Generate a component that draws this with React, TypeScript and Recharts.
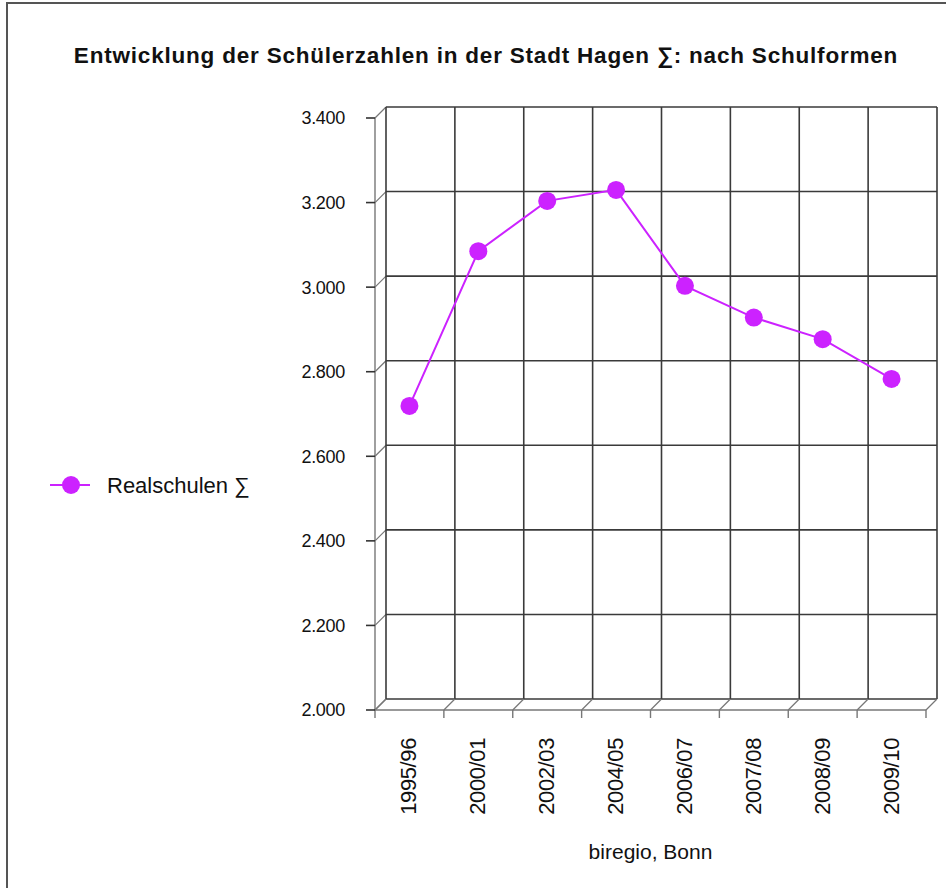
import { LineChart, Line, XAxis, YAxis, CartesianGrid, Legend } from 'recharts';

const categories = ['1995/96', '2000/01', '2002/03', '2004/05', '2006/07', '2007/08', '2008/09', '2009/10'];
const realschulen = [2719, 3085, 3204, 3230, 3003, 2928, 2877, 2783];
const yTicks = [2000, 2200, 2400, 2600, 2800, 3000, 3200, 3400];

const seriesName = 'Realschulen ∑';
const title = 'Entwicklung der Schülerzahlen in der Stadt Hagen ∑: nach Schulformen';
const source = 'biregio, Bonn';

const data = categories.map((c, i) => ({ year: c, value: realschulen[i] }));

const PURPLE = '#cc22ff';
const GRID = '#3a3a3a';
const AXIS = '#777';
const FONT = '"Liberation Sans", Arial, Helvetica, sans-serif';
// depth of the pseudo-3D back wall
const DX = 11;
const DY = 11;

const fmt = (v: number) => String(v).replace(/\B(?=(\d{3})+(?!\d))/g, '.');

const XTick = ({ x, y, payload }: any) => {
  const tx = x + 7;
  const ty = y + 28;
  return (
    <text
      x={tx}
      y={ty}
      transform={`rotate(-90 ${tx} ${ty})`}
      textAnchor="end"
      fontSize={22}
      fontFamily={FONT}
      fill="#111"
      letterSpacing={-0.4}
    >
      {payload.value}
    </text>
  );
};

const HLine = (p: any) => (
  <g>
    <line x1={p.x1 + DX} y1={p.y1 - DY} x2={p.x2 + DX} y2={p.y2 - DY} stroke={GRID} strokeWidth={1.6} />
    <line x1={p.x1} y1={p.y1} x2={p.x1 + DX} y2={p.y1 - DY} stroke={AXIS} strokeWidth={1.2} />
  </g>
);

const VLine = (p: any) => (
  <g>
    <line x1={p.x1 + DX} y1={p.y1 - DY} x2={p.x2 + DX} y2={p.y2 - DY} stroke={GRID} strokeWidth={1.6} />
    <line x1={p.x2} y1={p.y2} x2={p.x2 + DX} y2={p.y2 - DY} stroke={AXIS} strokeWidth={1.2} />
    <line x1={p.x2} y1={p.y2} x2={p.x2} y2={p.y2 + 8} stroke={AXIS} strokeWidth={1.4} />
  </g>
);

const vGen = ({ offset }: any) => {
  const left = offset ? offset.left : 375;
  const w = offset ? offset.width : 551;
  return categories.map((_, i) => left + (w * i) / categories.length).concat(left + w);
};

const LegendBox = () => (
  <svg width={260} height={32}>
    <line x1={6} y1={16} x2={46} y2={16} stroke={PURPLE} strokeWidth={2} />
    <circle cx={27} cy={16} r={9} fill={PURPLE} />
    <text x={63} y={16} dy="0.36em" fontSize={22} fontFamily={FONT} fill="#111">
      {seriesName}
    </text>
  </svg>
);

export default function App() {
  return (
    <div
      style={{
        position: 'fixed',
        left: 0,
        top: 0,
        width: 946,
        height: 888,
        overflow: 'hidden',
        background: '#fff',
      }}
    >
      <div style={{ position: 'absolute', left: 0, top: 0 }}>
        <LineChart width={946} height={888} data={data} margin={{ top: 118, right: 20, bottom: 0, left: 0 }}>
          <CartesianGrid
            horizontal={HLine}
            vertical={VLine}
            verticalCoordinatesGenerator={vGen}
            fill="none"
          />
          <XAxis
            dataKey="year"
            scale="band"
            height={178}
            tickSize={0}
            tickMargin={0}
            tick={<XTick />}
            interval={0}
            axisLine={{ stroke: AXIS, strokeWidth: 1.4 }}
            label={{ value: source, position: 'insideBottom', offset: 29, fontSize: 21, fontFamily: FONT, fill: '#111' }}
          />
          <YAxis
            width={375}
            domain={[2000, 3400]}
            ticks={yTicks}
            tickFormatter={fmt}
            tickSize={9}
            tickMargin={21}
            axisLine={{ stroke: AXIS, strokeWidth: 1.4 }}
            tickLine={{ stroke: '#333', strokeWidth: 1.6 }}
            tick={{ fontSize: 18, fontFamily: FONT, fill: '#111', letterSpacing: -0.3 }}
          />
          <Legend
            layout="vertical"
            align="center"
            verticalAlign="middle"
            content={<LegendBox />}
            wrapperStyle={{ left: 44, top: 469, width: 260 }}
          />
          <Line
            type="linear"
            dataKey="value"
            name={seriesName}
            stroke={PURPLE}
            strokeWidth={2}
            dot={{ r: 9, fill: PURPLE, stroke: 'none' }}
            isAnimationActive={false}
          />
        </LineChart>
      </div>
      <svg
        style={{ position: 'absolute', left: 0, top: 0, pointerEvents: 'none' }}
        width={946}
        height={888}
      >
        <rect x={7} y={3} width={1200} height={1200} fill="none" stroke="#555" strokeWidth={2} />
        <text
          x={486}
          y={63}
          textAnchor="middle"
          fontSize={22.5}
          fontWeight="bold"
          fontFamily={FONT}
          fill="#111"
          letterSpacing={0.8}
        >
          {title}
        </text>
      </svg>
    </div>
  );
}
